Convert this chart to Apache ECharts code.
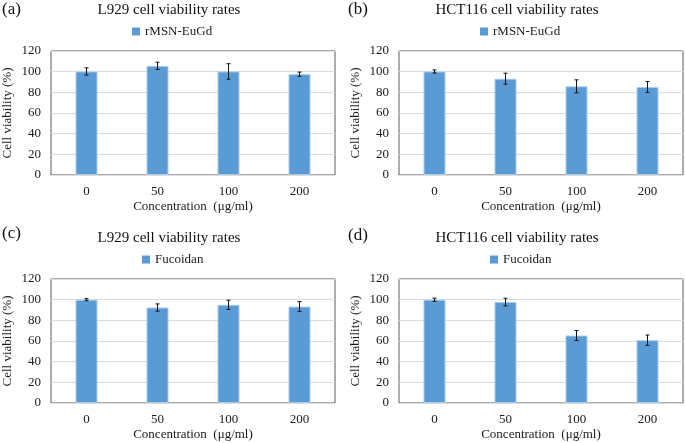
<!DOCTYPE html>
<html>
<head>
<meta charset="utf-8">
<script src="https://cdn.jsdelivr.net/npm/echarts@6/dist/echarts.min.js"></script>
<style>html,body{margin:0;padding:0;background:#fff;}#c{width:685px;height:443px;}</style>
</head>
<body>
<div id="c"></div>
<script>
var categories = ['0', '50', '100', '200'];
var yTicks = [0, 20, 40, 60, 80, 100, 120];
var panelLabels = ['(a)', '(b)', '(c)', '(d)'];
var titles = ['L929 cell viability rates', 'HCT116 cell viability rates', 'L929 cell viability rates', 'HCT116 cell viability rates'];
var seriesNames = ['rMSN-EuGd', 'rMSN-EuGd', 'Fucoidan', 'Fucoidan'];
var xName = 'Concentration  (\u03bcg/ml)';
var yName = 'Cell viability (%)';

var aMeans = [100.2, 105.6, 100.2, 97.6];
var aErr = [3.5, 3.5, 7.5, 2.0];
var bMeans = [100.2, 93.2, 85.8, 85.2];
var bErr = [1.5, 5.3, 6.3, 5.3];
var cMeans = [100.0, 92.4, 95.0, 93.3];
var cErr = [1.0, 3.5, 4.5, 4.8];
var dMeans = [100.0, 97.7, 65.3, 60.8];
var dErr = [1.5, 3.7, 4.8, 5.0];

var means = [aMeans, bMeans, cMeans, dMeans];
var errs = [aErr, bErr, cErr, dErr];

var FONT = 'Liberation Serif';
var grids = [
  {left: 50, top: 51, width: 285, height: 124},
  {left: 399, top: 51, width: 284, height: 124},
  {left: 50, top: 279, width: 285, height: 124},
  {left: 399, top: 279, width: 284, height: 124}
];
var titlePos = [[169, 3], [517, 3], [169, 231], [517, 231]];
var labelPos = [[2, 1], [348, 1], [2, 225], [348, 227]];
var legendPos = [[132, 25], [480, 25], [142, 253], [490, 253]];

var option = {
  animation: false,
  backgroundColor: '#fff',
  textStyle: {fontFamily: FONT},
  title: [],
  legend: [],
  grid: [],
  xAxis: [],
  yAxis: [],
  series: []
};

for (var i = 0; i < 4; i++) {
  option.title.push({
    text: panelLabels[i], left: labelPos[i][0], top: labelPos[i][1], padding: 0,
    textStyle: {fontFamily: FONT, fontSize: 17, fontWeight: 'normal', color: '#111'}
  });
  option.title.push({
    text: titles[i], left: titlePos[i][0], top: titlePos[i][1], textAlign: 'center', padding: 0,
    textStyle: {fontFamily: FONT, fontSize: 15, fontWeight: 'normal', color: '#111'}
  });
  option.legend.push({
    data: [seriesNames[i]], left: legendPos[i][0], top: legendPos[i][1], padding: 0,
    icon: 'rect', itemWidth: 8, itemHeight: 8, selectedMode: false,
    itemStyle: {borderWidth: 0},
    textStyle: {fontFamily: FONT, fontSize: 13, color: '#1a1a1a'}
  });
  var g = grids[i];
  option.grid.push({
    left: g.left, top: g.top, width: g.width, height: g.height,
    show: true, borderColor: '#5a5a5a', borderWidth: 1, backgroundColor: 'transparent'
  });
  option.xAxis.push({
    type: 'category', gridIndex: i, data: categories,
    name: xName, nameLocation: 'middle', nameGap: 25,
    nameTextStyle: {fontFamily: FONT, fontSize: 13, color: '#1a1a1a'},
    axisLine: {show: false}, axisTick: {show: false},
    axisLabel: {fontFamily: FONT, fontSize: 13, color: '#1a1a1a', margin: 10},
    splitLine: {show: false}
  });
  option.yAxis.push({
    type: 'value', gridIndex: i, min: yTicks[0], max: yTicks[yTicks.length - 1], interval: yTicks[1] - yTicks[0],
    name: yName, nameLocation: 'middle', nameGap: 37,
    nameTextStyle: {fontFamily: FONT, fontSize: 13, color: '#1a1a1a'},
    axisLine: {show: false}, axisTick: {show: false},
    axisLabel: {fontFamily: FONT, fontSize: 13, color: '#1a1a1a', margin: 10},
    splitLine: {show: true, lineStyle: {color: '#dcdcdc', width: 1}}
  });
  option.series.push({
    name: seriesNames[i], type: 'bar', xAxisIndex: i, yAxisIndex: i,
    data: means[i], barWidth: 22,
    itemStyle: {color: '#5b9bd5', borderColor: '#a9cbea', borderWidth: 1}
  });
  var errData = means[i].map(function (m, k) { return [k, m - errs[i][k], m + errs[i][k]]; });
  option.series.push({
    name: 'err' + i, type: 'custom', xAxisIndex: i, yAxisIndex: i,
    data: errData, z: 10,
    renderItem: function (params, api) {
      var x = api.value(0);
      var lo = api.coord([x, api.value(1)]);
      var hi = api.coord([x, api.value(2)]);
      var cap = 2;
      var style = {stroke: '#111', lineWidth: 1};
      return {
        type: 'group',
        children: [
          {type: 'line', shape: {x1: lo[0], y1: lo[1], x2: hi[0], y2: hi[1]}, style: style},
          {type: 'line', shape: {x1: lo[0] - cap, y1: lo[1], x2: lo[0] + cap, y2: lo[1]}, style: style},
          {type: 'line', shape: {x1: hi[0] - cap, y1: hi[1], x2: hi[0] + cap, y2: hi[1]}, style: style}
        ]
      };
    }
  });
}

var chart = echarts.init(document.getElementById('c'), null, {renderer: 'canvas'});
chart.setOption(option);
</script>
</body>
</html>
